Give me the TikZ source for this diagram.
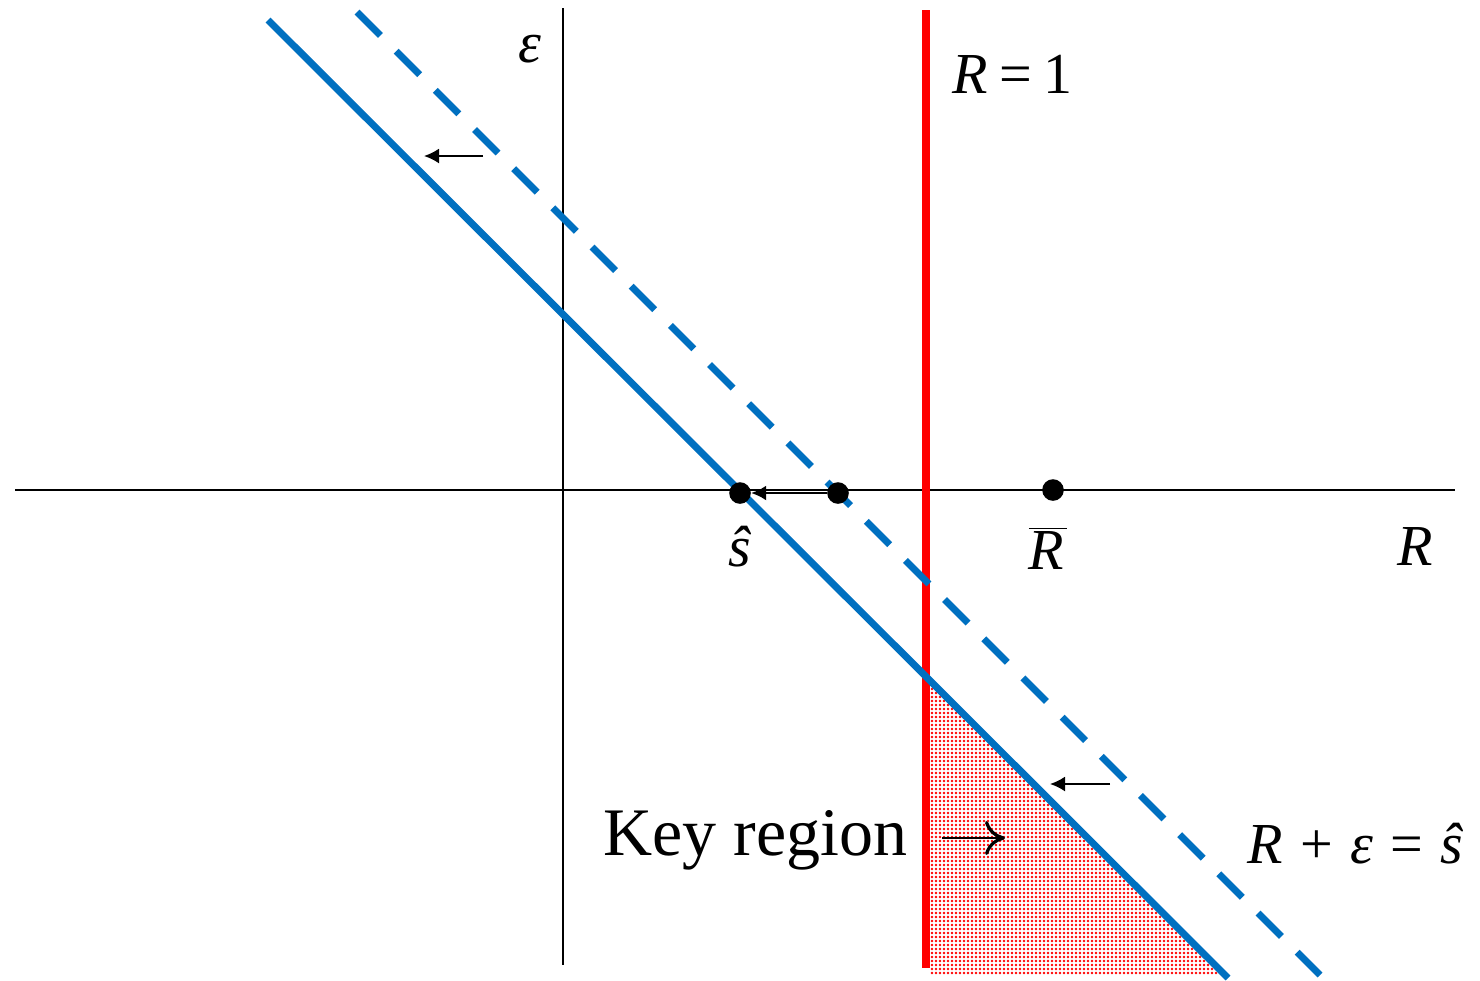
\documentclass[tikz,border=0pt]{standalone}
\usepackage{fontspec}
\setmainfont{Liberation Serif}
\usetikzlibrary{arrows.meta,patterns.meta}
\definecolor{lineblue}{HTML}{0070C0}
\definecolor{keyred}{HTML}{FF0000}
\tikzset{
  axis/.style={draw=black,line width=1.2pt},
  bluesolid/.style={draw=lineblue,line width=3.5pt},
  bluedashed/.style={draw=lineblue,line width=3.5pt,dash pattern=on 16.6pt off 11.1pt},
  redline/.style={draw=keyred,line width=4pt},
  dot/.style={circle,fill=black,inner sep=0pt,minimum size=10.8pt},
  shift arrow/.style={draw=black,line width=1pt,-{Latex[length=7.5pt,width=7.5pt]}},
  open arrow/.style={draw=black,line width=1.4pt,-{Computer Modern Rightarrow[length=10pt,width=17pt,line width=1.6pt]}},
  lbl/.style={inner sep=0pt,font=\fontsize{29}{32}\selectfont},
  keylbl/.style={inner sep=0pt,font=\fontsize{34}{38}\selectfont}
}
\begin{document}
\begin{tikzpicture}[x=0.5pt,y=-0.5pt]
\useasboundingbox (0,0) rectangle (1480,981);
% shaded key region
\fill[pattern={Dots[distance=2pt,radius=0.68pt]},pattern color=keyred]
  (930,683) -- (930,975) -- (1223,975) -- cycle;
% axes
\coordinate (xl) at (15,490);
\coordinate (xr) at (1455,490);
\coordinate (yt) at (563,8);
\coordinate (yb) at (563,965);
\draw[axis] (xl) -- (xr);
\draw[axis] (yt) -- (yb);
% red line R=1
\coordinate (rt) at (926,10);
\coordinate (rb) at (926,968);
\draw[redline] (rt) -- (rb);
% blue lines
\coordinate (st) at (268,20);
\coordinate (sb) at (1228,978);
\draw[bluesolid] (st) -- (sb);
\coordinate (dt) at (357,12);
\coordinate (db) at (1320,975);
\draw[bluedashed] (dt) -- (db);
% dots
\node[dot] (shat) at (740,493) {};
\node[dot] (sold) at (838,493) {};
\node[dot] (rbar) at (1053,490) {};
% shift arrows
\coordinate (a1s) at (483,156);
\coordinate (a1e) at (424,156);
\draw[shift arrow] (a1s) -- (a1e);
\coordinate (a2s) at (1110,784);
\coordinate (a2e) at (1050,784);
\draw[shift arrow] (a2s) -- (a2e);
\draw[shift arrow] (sold.west) -- (shat.east);
\coordinate (a3s) at (942,838);
\coordinate (a3e) at (1005,838);
\draw[open arrow] (a3s) -- (a3e);
% labels
\node[lbl,anchor=base] (leps) at (530,62) {\textit{ε}};
\node[lbl,anchor=base west] (lr1) at (952,93) {\textit{R}\hspace{0.2em}=\hspace{0.2em}1};
\node[lbl,anchor=base] (lshat) at (740,566) {\textit{ŝ}};
\node[lbl,anchor=base] (lrbar) at (1048,569) {$\overline{\mbox{\textit{R}\hspace{0.05em}}}$};
\node[lbl,anchor=base] (lR) at (1415,565) {\textit{R}};
\node[lbl,anchor=base west] (leq) at (1247,863) {\textit{R}\hspace{0.3em}+\hspace{0.3em}\textit{ε}\hspace{0.3em}=\hspace{0.3em}\textit{ŝ}};
\node[keylbl,anchor=base west] (lkey) at (603,855) {Key region};
\end{tikzpicture}
\end{document}
